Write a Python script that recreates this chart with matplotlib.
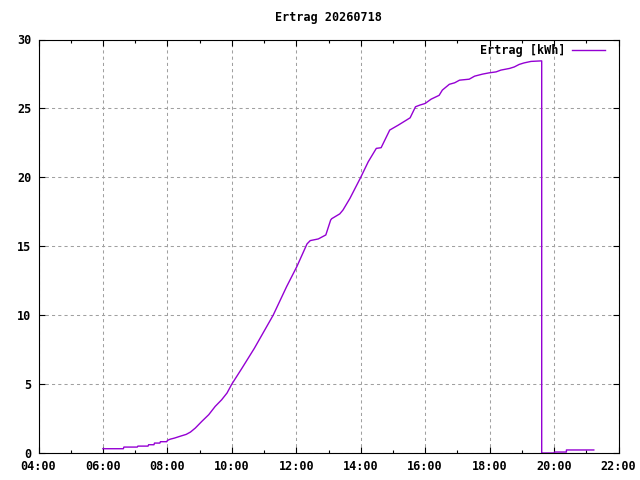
import matplotlib
matplotlib.use("Agg")
import matplotlib.pyplot as plt
from matplotlib.ticker import MultipleLocator, FuncFormatter

TITLE = "Ertrag 20260718"
SERIES = "Ertrag [kWh]"

# time of day (HH:MM) and cumulative yield in kWh
TIMES = [
    "06:00", "06:38", "06:39", "07:04", "07:05", "07:24", "07:25", "07:35",
    "07:36", "07:46", "07:47", "07:59", "08:00", "08:05", "08:13", "08:25",
    "08:35", "08:43", "08:52", "09:04", "09:17", "09:29", "09:41", "09:51",
    "10:00", "10:19", "10:42", "11:17", "11:42", "12:01", "12:20", "12:26",
    "12:41", "12:55", "13:04", "13:06", "13:21", "13:27", "13:40", "14:00",
    "14:14", "14:29", "14:38", "14:54", "15:10", "15:25", "15:32", "15:42",
    "15:50", "16:00", "16:11", "16:26", "16:32", "16:45", "16:55", "17:04",
    "17:22", "17:32", "17:47", "17:59", "18:12", "18:21", "18:37", "18:46",
    "18:55", "19:04", "19:17", "19:37", "19:37", "20:00", "20:01", "20:23",
    "20:23", "21:14",
]
KWH = [
    0.31, 0.31, 0.43, 0.43, 0.50, 0.50, 0.60, 0.60,
    0.72, 0.72, 0.82, 0.82, 0.91, 1.00, 1.08, 1.23,
    1.35, 1.52, 1.81, 2.29, 2.78, 3.38, 3.86, 4.35,
    5.00, 6.16, 7.60, 10.0, 12.07, 13.52, 15.17, 15.41,
    15.53, 15.82, 16.90, 17.00, 17.35, 17.63, 18.48, 20.0,
    21.13, 22.10, 22.15, 23.43, 23.79, 24.15, 24.32, 25.12,
    25.24, 25.36, 25.67, 25.95, 26.33, 26.75, 26.86, 27.05,
    27.12, 27.34, 27.49, 27.58, 27.65, 27.78, 27.90, 28.01,
    28.19, 28.30, 28.41, 28.45, 0.0, 0.0, 0.07, 0.07,
    0.22, 0.22,
]

X_MIN, X_MAX = 4, 22
Y_MIN, Y_MAX = 0, 30


def to_hours(t):
    h, m = t.split(":")
    return int(h) + int(m) / 60.0


hours = [to_hours(t) for t in TIMES]

plt.rcParams["font.family"] = "DejaVu Sans Mono"
plt.rcParams["font.weight"] = "bold"
plt.rcParams["font.size"] = 8.5

fig = plt.figure(figsize=(6.4, 4.8), dpi=100)
ax = fig.add_axes([38.5 / 640, 27 / 480, 580 / 640, 413.5 / 480])

ax.plot(hours, KWH, color="#9400D3", linewidth=1.0, label=SERIES)

ax.set_xlim(X_MIN, X_MAX)
ax.set_ylim(Y_MIN, Y_MAX)
ax.xaxis.set_major_locator(MultipleLocator(2))
ax.xaxis.set_minor_locator(MultipleLocator(1))
ax.yaxis.set_major_locator(MultipleLocator(5))
ax.xaxis.set_major_formatter(FuncFormatter(lambda v, p: f"{int(v):02d}:00"))

ax.tick_params(which="both", direction="in", top=True, right=True,
               color="black", width=0.8)
ax.tick_params(which="major", length=4.3, pad=5)
ax.tick_params(which="minor", length=2.2)
for s in ax.spines.values():
    s.set_linewidth(0.8)
    s.set_color("black")

ax.grid(True, which="major", color="#a0a0a0", linewidth=0.75,
        linestyle=(0, (3, 3)))
ax.set_axisbelow(True)

ax.set_title(TITLE, fontsize=8.5, fontweight="bold", pad=13)

ax.legend(loc="upper right", bbox_to_anchor=(0.977, 0.99), frameon=False,
          markerfirst=False, handlelength=2.8, borderpad=0, borderaxespad=0,
          handletextpad=0.6, fontsize=8.5)

fig.savefig("out.png", dpi=100)
